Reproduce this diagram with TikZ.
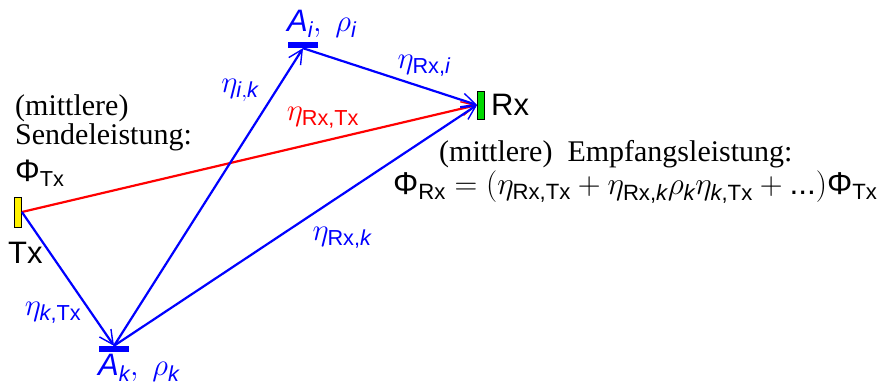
\RequirePackage{fix-cm}
\documentclass[tikz,border=0pt]{standalone}
\usepackage{amsmath}
\usepackage{fontspec}
\setmainfont{Liberation Serif}
\setsansfont{Liberation Sans}
\usetikzlibrary{arrows.meta}
\newcommand{\su}[1]{\text{\sffamily #1}}
\newcommand{\si}[1]{\text{\sffamily\itshape #1}}
\begin{document}
\begin{tikzpicture}[x=1pt,y=-1pt,
  conn/.style={line width=2.2pt,-{Straight Barb[length=14pt,width=14pt,line width=1.4pt]}},
  blueconn/.style={conn,blue},
  redconn/.style={conn,red},
  bar/.style={fill=blue,draw=none,minimum width=30pt,minimum height=6pt,inner sep=0pt},
  serif/.style={font=\fontsize{30}{34}\selectfont,inner sep=0pt},
  lbl/.style={font=\fontsize{31}{34}\selectfont,inner sep=0pt},
  sans/.style={font=\sffamily\fontsize{31}{34}\selectfont,inner sep=0pt}]
\useasboundingbox (0,0) rectangle (887,387);
% devices
\node[draw=black,fill=yellow,line width=0.8pt,minimum width=7pt,minimum height=30pt,inner sep=0pt] (Tx) at (18,212) {};
\node[draw=black,fill=green!85!black,line width=0.8pt,minimum width=7pt,minimum height=28pt,inner sep=0pt] (Rx) at (481,105) {};
\node[bar] (Ai) at (303,45) {};
\node[bar] (Ak) at (114,349) {};
% connectors
\draw[redconn] (Tx.east) -- (Rx.west);
\draw[blueconn] (Tx.east) -- (Ak.north);
\draw[blueconn] (Ak.north) -- (Ai.south);
\draw[blueconn] (Ak.north) -- (Rx.west);
\draw[blueconn] (Ai.south) -- (Rx.west);
% labels
\node[lbl,text=blue,anchor=base west] (lAi) at (287,32) {$\si{A}_{\si{i}},\;\rho_{\si{i}}$};
\node[lbl,text=blue,anchor=base west] (lAk) at (98,376) {$\si{A}_{\si{k}},\;\rho_{\si{k}}$};
\node[lbl,text=blue] (lRxi) at (424,66) {$\eta_{\su{Rx,}\si{i}}$};
\node[lbl,text=blue] (lik) at (240,90) {$\eta_{\si{i},\si{k}}$};
\node[lbl,text=red] (lRxTx) at (323,118) {$\eta_{\su{Rx,Tx}}$};
\node[lbl,text=blue] (lRxk) at (342,238) {$\eta_{\su{Rx,}\si{k}}$};
\node[lbl,text=blue] (lkTx) at (53,313) {$\eta_{\si{k}\su{,Tx}}$};
\node[sans,anchor=base west] (tRx) at (491,116) {Rx};
\node[sans,anchor=base west] (tTx) at (8,264) {Tx};
\node[serif,anchor=base west] (s1) at (15,116) {(mittlere)};
\node[serif,anchor=base west] (s2) at (15,145) {Sendeleistung:};
\node[lbl,anchor=base west] (s3) at (15,182) {$\su{Φ}_{\su{Tx}}$};
\node[serif,anchor=base west] (e1) at (439,162) {(mittlere)\ \ Empfangsleistung:};
\node[lbl,anchor=base west,font=\fontsize{31.6}{34}\selectfont] (e2) at (393,195) {$\su{Φ}_{\su{Rx}}=(\eta_{\su{Rx,Tx}}+\eta_{\su{Rx,}\si{k}}\rho_{\si{k}}\eta_{\si{k}\su{,Tx}}+\su{...})\su{Φ}_{\su{Tx}}$};
\end{tikzpicture}
\end{document}
